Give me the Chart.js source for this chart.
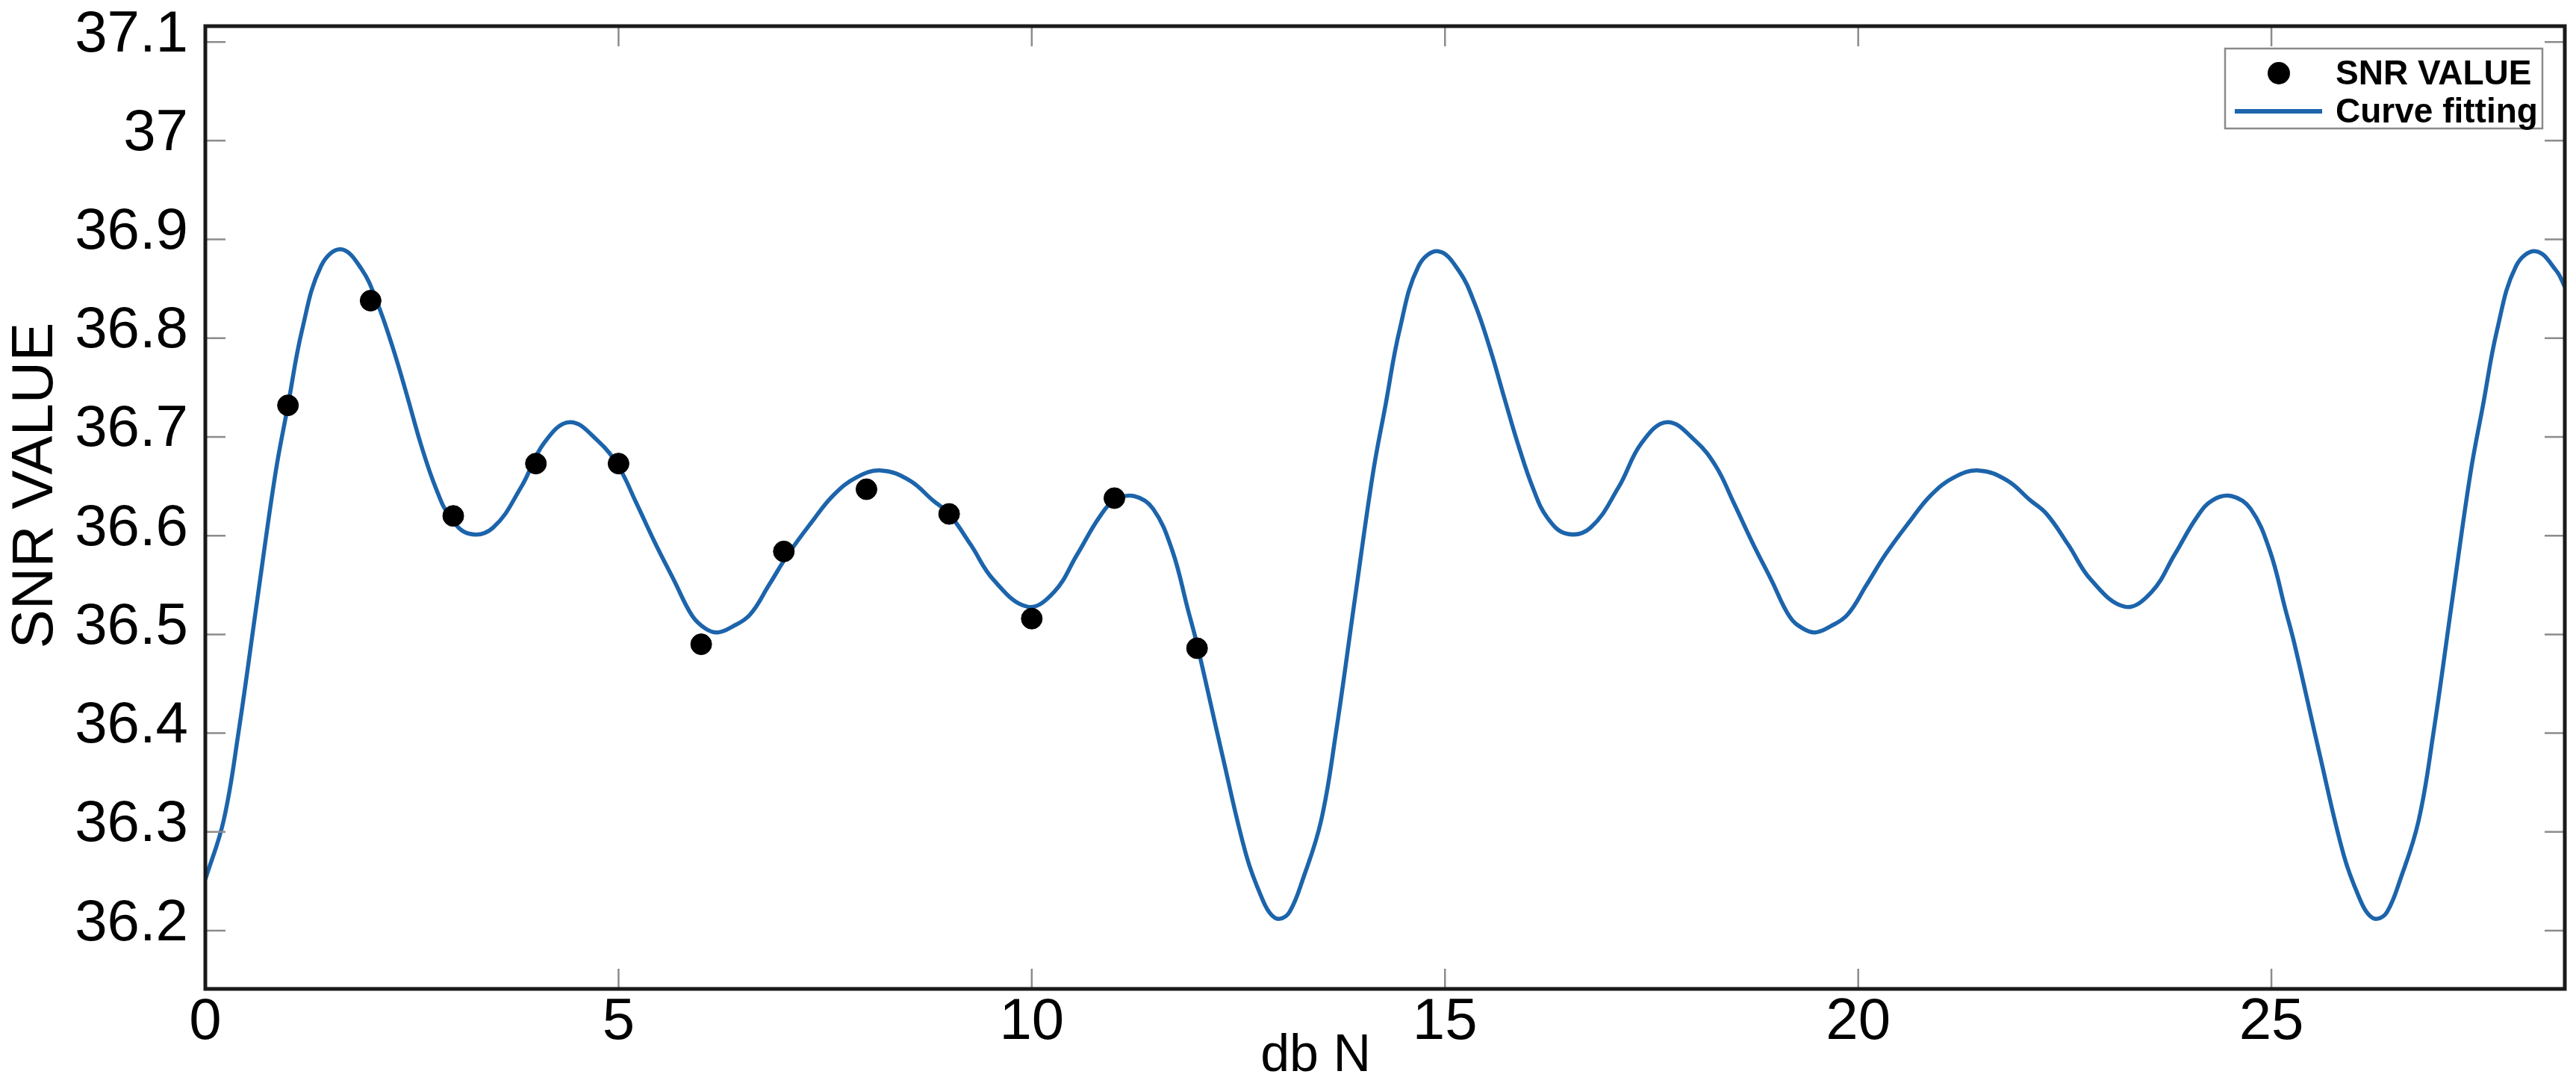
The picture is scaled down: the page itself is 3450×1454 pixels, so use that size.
<!DOCTYPE html>
<html><head><meta charset="utf-8">
<script src="https://cdn.jsdelivr.net/npm/chart.js@4.4.1/dist/chart.umd.min.js"></script>
<style>html,body{margin:0;padding:0;background:#fff}#wrap{width:3450px;height:1454px;position:relative}</style>
</head><body><div id="wrap"><canvas id="c" width="3450" height="1454"></canvas></div>
<script>
// ---- data ----
const snrX = [1, 2, 3, 4, 5, 6, 7, 8, 9, 10, 11, 12];
const snrY = [36.732, 36.838, 36.620, 36.673, 36.673, 36.490, 36.584, 36.647, 36.622, 36.516, 36.638, 36.486];

const curveX = [0, 0.22, 0.4, 0.63, 0.85, 1.0, 1.17, 1.4, 1.64, 1.89, 2.08, 2.27, 2.44, 2.61, 2.79, 2.96, 3.19, 3.48, 3.82, 4.1, 4.41, 4.75,
  5.0, 5.21, 5.44, 5.67, 5.89, 6.05, 6.2, 6.38, 6.59, 6.82, 7.05, 7.33, 7.6, 7.88, 8.18, 8.52, 8.8, 9.0, 9.26, 9.54, 9.95,
  10.27, 10.55, 10.82, 11.01, 11.24, 11.47, 11.7, 11.89, 12.0, 12.3, 12.6, 12.8, 12.9, 13.0, 13.12,
  13.28, 13.5, 13.68, 13.91, 14.13, 14.28, 14.45, 14.68, 14.92, 15.17, 15.36, 15.55, 15.72, 15.89, 16.07, 16.24, 16.47, 16.76, 17.1, 17.38, 17.69,
  18.03, 18.28, 18.49, 18.72, 18.95, 19.17, 19.33, 19.48, 19.66, 19.87, 20.1, 20.33, 20.61, 20.88, 21.16, 21.46, 21.8, 22.08, 22.28, 22.54, 22.82, 23.23,
  23.55, 23.83, 24.1, 24.29, 24.52, 24.75, 24.98, 25.17, 25.28, 25.58, 25.88, 26.08, 26.18, 26.28, 26.4,
  26.56, 26.78, 26.96, 27.19, 27.41, 27.56, 27.73, 27.96, 28.2, 28.45, 28.55];
const curveY = [36.252, 36.311, 36.40, 36.536, 36.664, 36.732, 36.808, 36.873, 36.890, 36.870, 36.836, 36.790, 36.742, 36.692, 36.648, 36.619, 36.602, 36.608, 36.649, 36.694, 36.715, 36.696,
  36.670, 36.634, 36.593, 36.555, 36.519, 36.506, 36.502, 36.508, 36.520, 36.550, 36.581, 36.613, 36.641, 36.659, 36.666, 36.656, 36.636, 36.622, 36.591, 36.555, 36.528,
  36.543, 36.581, 36.619, 36.636, 36.640, 36.627, 36.585, 36.525, 36.490, 36.380, 36.275, 36.230, 36.216, 36.212, 36.219,
  36.252, 36.311, 36.40, 36.536, 36.664, 36.732, 36.808, 36.873, 36.888, 36.868, 36.835, 36.788, 36.739, 36.691, 36.647, 36.618, 36.602, 36.608, 36.649, 36.694, 36.715,
  36.696, 36.670, 36.634, 36.593, 36.555, 36.518, 36.506, 36.502, 36.508, 36.520, 36.550, 36.581, 36.613, 36.641, 36.659, 36.666, 36.656, 36.636, 36.622, 36.591, 36.555, 36.528,
  36.543, 36.581, 36.619, 36.636, 36.640, 36.627, 36.585, 36.525, 36.490, 36.380, 36.275, 36.230, 36.216, 36.212, 36.219,
  36.252, 36.311, 36.40, 36.536, 36.664, 36.732, 36.808, 36.873, 36.888, 36.868, 36.852];

const xTicks = [0, 5, 10, 15, 20, 25];
const xTickLabels = ['0', '5', '10', '15', '20', '25'];
const yTicks = [36.2, 36.3, 36.4, 36.5, 36.6, 36.7, 36.8, 36.9, 37.0, 37.1];
const yTickLabels = ['36.2', '36.3', '36.4', '36.5', '36.6', '36.7', '36.8', '36.9', '37', '37.1'];
const xTitle = 'db N';
const yTitle = 'SNR VALUE';
const seriesNames = ['SNR VALUE', 'Curve fitting'];
const xRange = [0, 28.55];
const yRange = [36.141, 37.116];

const FONT = '"Liberation Sans", Arial, Helvetica, sans-serif';
const BLUE = '#1c64ab';

const framePlugin = {
  id: 'frame',
  afterDraw(chart) {
    const ctx = chart.ctx, ca = chart.chartArea;
    const sx = chart.scales.x, sy = chart.scales.y;
    ctx.save();
    // inward tick marks on all four sides
    ctx.strokeStyle = '#8c8c8c';
    ctx.lineWidth = 2.5;
    const tl = 27;
    ctx.beginPath();
    xTicks.forEach(v => {
      const px = sx.getPixelForValue(v);
      ctx.moveTo(px, ca.bottom); ctx.lineTo(px, ca.bottom - tl);
      ctx.moveTo(px, ca.top); ctx.lineTo(px, ca.top + tl);
    });
    yTicks.forEach(v => {
      const py = sy.getPixelForValue(v);
      ctx.moveTo(ca.left, py); ctx.lineTo(ca.left + tl, py);
      ctx.moveTo(ca.right, py); ctx.lineTo(ca.right - tl, py);
    });
    ctx.stroke();
    // box
    ctx.strokeStyle = '#1a1a1a';
    ctx.lineWidth = 5;
    ctx.strokeRect(ca.left, ca.top, ca.right - ca.left, ca.bottom - ca.top);

    // axis titles
    ctx.fillStyle = '#000';
    ctx.font = '70px ' + FONT;
    ctx.textAlign = 'center';
    ctx.textBaseline = 'alphabetic';
    ctx.fillText(xTitle, ca.left + 0.4706 * (ca.right - ca.left), 1434);
    ctx.save();
    ctx.translate(48, 650);
    ctx.rotate(-Math.PI / 2);
    ctx.font = '78px ' + FONT;
    ctx.textBaseline = 'middle';
    ctx.fillText(yTitle, 0, 0);
    ctx.restore();

    // legend
    const bw = 425, bh = 107;
    const bx = ca.right - 30 - bw, by = ca.top + 30;
    ctx.fillStyle = '#fff';
    ctx.fillRect(bx, by, bw, bh);
    ctx.strokeStyle = '#8a8a8a';
    ctx.lineWidth = 2.5;
    ctx.strokeRect(bx, by, bw, bh);
    const r1 = by + 33, r2 = by + 84;
    ctx.fillStyle = '#000';
    ctx.beginPath();
    ctx.arc(bx + 72, r1, 15, 0, Math.PI * 2);
    ctx.fill();
    ctx.strokeStyle = BLUE;
    ctx.lineWidth = 6;
    ctx.beginPath();
    ctx.moveTo(bx + 13, r2); ctx.lineTo(bx + 130, r2);
    ctx.stroke();
    ctx.fillStyle = '#000';
    ctx.font = 'bold 46px ' + FONT;
    ctx.textAlign = 'left';
    ctx.textBaseline = 'middle';
    ctx.fillText(seriesNames[0], bx + 148, r1 + 2);
    ctx.fillText(seriesNames[1], bx + 148, r2 + 2);
    ctx.restore();
  }
};

new Chart(document.getElementById('c'), {
  type: 'scatter',
  data: {
    datasets: [
      {
        label: seriesNames[0],
        data: snrX.map((x, i) => ({x, y: snrY[i]})),
        backgroundColor: '#000',
        borderColor: '#000',
        pointRadius: 14,
        pointHoverRadius: 14,
        showLine: false,
        order: 0
      },
      {
        label: seriesNames[1],
        data: curveX.map((x, i) => ({x, y: curveY[i]})),
        borderColor: BLUE,
        borderWidth: 5.5,
        pointRadius: 0,
        showLine: true,
        fill: false,
        tension: 0.4,
        order: 1
      }
    ]
  },
  options: {
    responsive: false,
    animation: false,
    devicePixelRatio: 1,
    events: [],
    layout: {padding: {top: 35, right: 13, left: 0, bottom: 0}},
    plugins: {legend: {display: false}, tooltip: {enabled: false}},
    scales: {
      x: {
        type: 'linear',
        min: xRange[0], max: xRange[1],
        afterBuildTicks: s => { s.ticks = xTicks.map(v => ({value: v})); },
        afterFit: s => { s.height = 130; s.paddingLeft = 0; s.paddingRight = 0; },
        grid: {display: false, drawTicks: false, tickLength: 0},
        border: {display: false},
        ticks: {
          autoSkip: false, maxRotation: 0, padding: 6,
          color: '#000',
          font: {family: FONT, size: 78, lineHeight: 1},
          callback: v => xTickLabels[xTicks.indexOf(v)]
        }
      },
      y: {
        type: 'linear',
        min: yRange[0], max: yRange[1],
        afterBuildTicks: s => { s.ticks = yTicks.map(v => ({value: v})); },
        afterFit: s => { s.width = 275; s.paddingTop = 0; s.paddingBottom = 0; },
        grid: {display: false, drawTicks: false, tickLength: 0},
        border: {display: false},
        ticks: {
          autoSkip: false, padding: 23, labelOffset: -9,
          color: '#000',
          font: {family: FONT, size: 78, lineHeight: 1},
          callback: v => { const i = yTicks.findIndex(t => Math.abs(t - v) < 1e-9); return yTickLabels[i]; }
        }
      }
    }
  },
  plugins: [framePlugin]
});
</script>
</body></html>
